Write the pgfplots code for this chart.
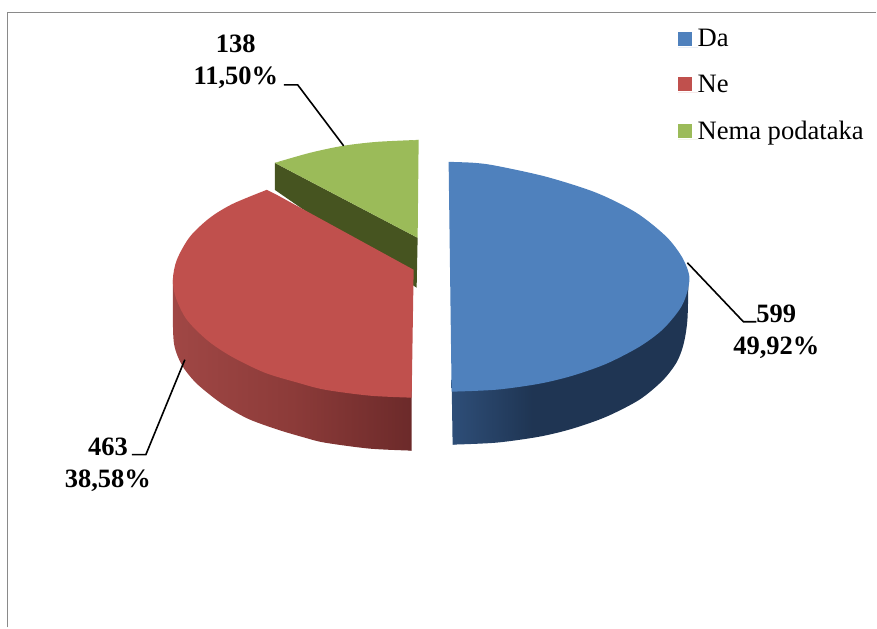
\documentclass[border=0pt]{standalone}
\usepackage{fontspec}
\setmainfont{Liberation Serif}
\usepackage{pgfplots}
\pgfplotsset{compat=1.18}

\definecolor{cblue}{HTML}{4F81BD}
\definecolor{cred}{HTML}{C0504D}
\definecolor{cgreen}{HTML}{9BBB59}
\definecolor{cgreendark}{HTML}{465420}
\definecolor{cframe}{HTML}{8A8A8A}
\definecolor{ba}{HTML}{2E4E78}
\definecolor{bb}{HTML}{1F3553}
\definecolor{ra}{HTML}{A04745}
\definecolor{rb}{HTML}{8C3B39}
\definecolor{rc}{HTML}{6C2A2A}

% side walls are a bit lighter at the cut end
\pgfdeclarehorizontalshading{blueside}{100bp}{color(0bp)=(ba);color(25bp)=(ba);color(42bp)=(bb);color(100bp)=(bb)}
\pgfdeclarehorizontalshading{redside}{100bp}{color(0bp)=(ra);color(25bp)=(ra);color(50bp)=(rb);color(75bp)=(rc);color(100bp)=(rc)}

\begin{document}
\begin{tikzpicture}
\begin{axis}[
    scale only axis,
    width=877pt, height=628pt,
    xmin=0, xmax=877, ymin=0, ymax=628,
    y dir=reverse,
    axis lines=none,
    clip=false,
    legend style={
        at={(axis cs:678,29)}, anchor=north west,
        draw=none, fill=none,
        font=\fontsize{26.6}{30}\selectfont,
        row sep=27pt, inner sep=0pt,
        nodes={inner sep=0pt, anchor=base west},
    },
    legend cell align=left,
    legend image code/.code={
        \path (0pt,0pt) rectangle (20pt,0pt);
        \fill[#1] (0pt,1pt) rectangle (14pt,15pt);
    },
]

% keeps the page as large as the whole axis
\addplot[draw=none, forget plot] coordinates {(0,0)(877,628)};

% frame
\addplot[cframe, line width=1.5pt, forget plot] coordinates {(7.5,628)(7.5,12.5)(877,12.5)};

% blue wall: outer arc plus a wedge up to the cut edge, top face hides the rest
\addplot[draw=none, shading=blueside, smooth, forget plot] coordinates {
    (453,445)(497,443)(540,437)(573,429)(607,417)(640,400)(663,381)(677,363)(684,345)(688,320)(689,277)};
\addplot[draw=none, shading=blueside, forget plot] coordinates {(452,380)(453,445)(540,430)(689,277)};
\addplot[draw=none, fill=cblue, smooth] coordinates {
    (449,162)(475,163)(497,166)(547,177)(597,193)(637,213)(667,237)(683,258)(690,277)(687,295)(680,310)(663,330)(640,347)(607,364)(573,376)(540,384)(497,390)(452,392)};
\addlegendentry{Da}

% green wall, the red slice covers its lower end
\addplot[draw=none, fill=cgreendark, forget plot] coordinates {(275,163)(418,238)(417,288)(275,190)};

% red wall
\addplot[draw=none, shading=redside, smooth, forget plot] coordinates {
    (173,280)(173,320)(174,343)(178,357)(185,370)(198,385)(222,404)(248,419)(278,430)(305,438)(325,443)(370,449)(412,451)};
\addplot[draw=none, shading=redside, forget plot] coordinates {(173,280)(300,430)(412,451)(412,380)};
\addplot[draw=none, fill=cred, smooth] coordinates {
    (412,398)(370,396)(325,390)(298,383)(265,373)(232,357)(208,341)(187,320)(176,298)(173,280)(177,260)(190,237)(210,218)(233,204)(267,190)};
\addlegendentry{Ne}
\addplot[draw=none, fill=cred, forget plot] coordinates {(412,398)(230,300)(267,190)(277,195)(414,270)};

% green top
\addplot[draw=none, fill=cgreen, smooth] coordinates {
    (275,163)(310,153)(343,146)(377,142)(419,140)};
\addlegendentry{Nema podataka}
\addplot[draw=none, fill=cgreen, forget plot] coordinates {(275,163)(350,148)(419,140)(418,238)};

% leader lines
\addplot[black, line width=1.6pt, forget plot] coordinates {(284,85)(298,85)(344,146)};
\addplot[black, line width=1.6pt, forget plot] coordinates {(688,263)(744,322)(757,322)};
\addplot[black, line width=1.6pt, forget plot] coordinates {(185,360)(146,455)(132,455)};

\node[font=\fontsize{26.5}{32}\selectfont\bfseries, align=center] at (axis cs:236,62) {138\\11,50\%};
\node[font=\fontsize{26.5}{32}\selectfont\bfseries, align=center] at (axis cs:777,332) {599\\49,92\%};
\node[font=\fontsize{26.5}{32}\selectfont\bfseries, align=center] at (axis cs:108,465) {463\\38,58\%};

\end{axis}
\end{tikzpicture}
\end{document}
